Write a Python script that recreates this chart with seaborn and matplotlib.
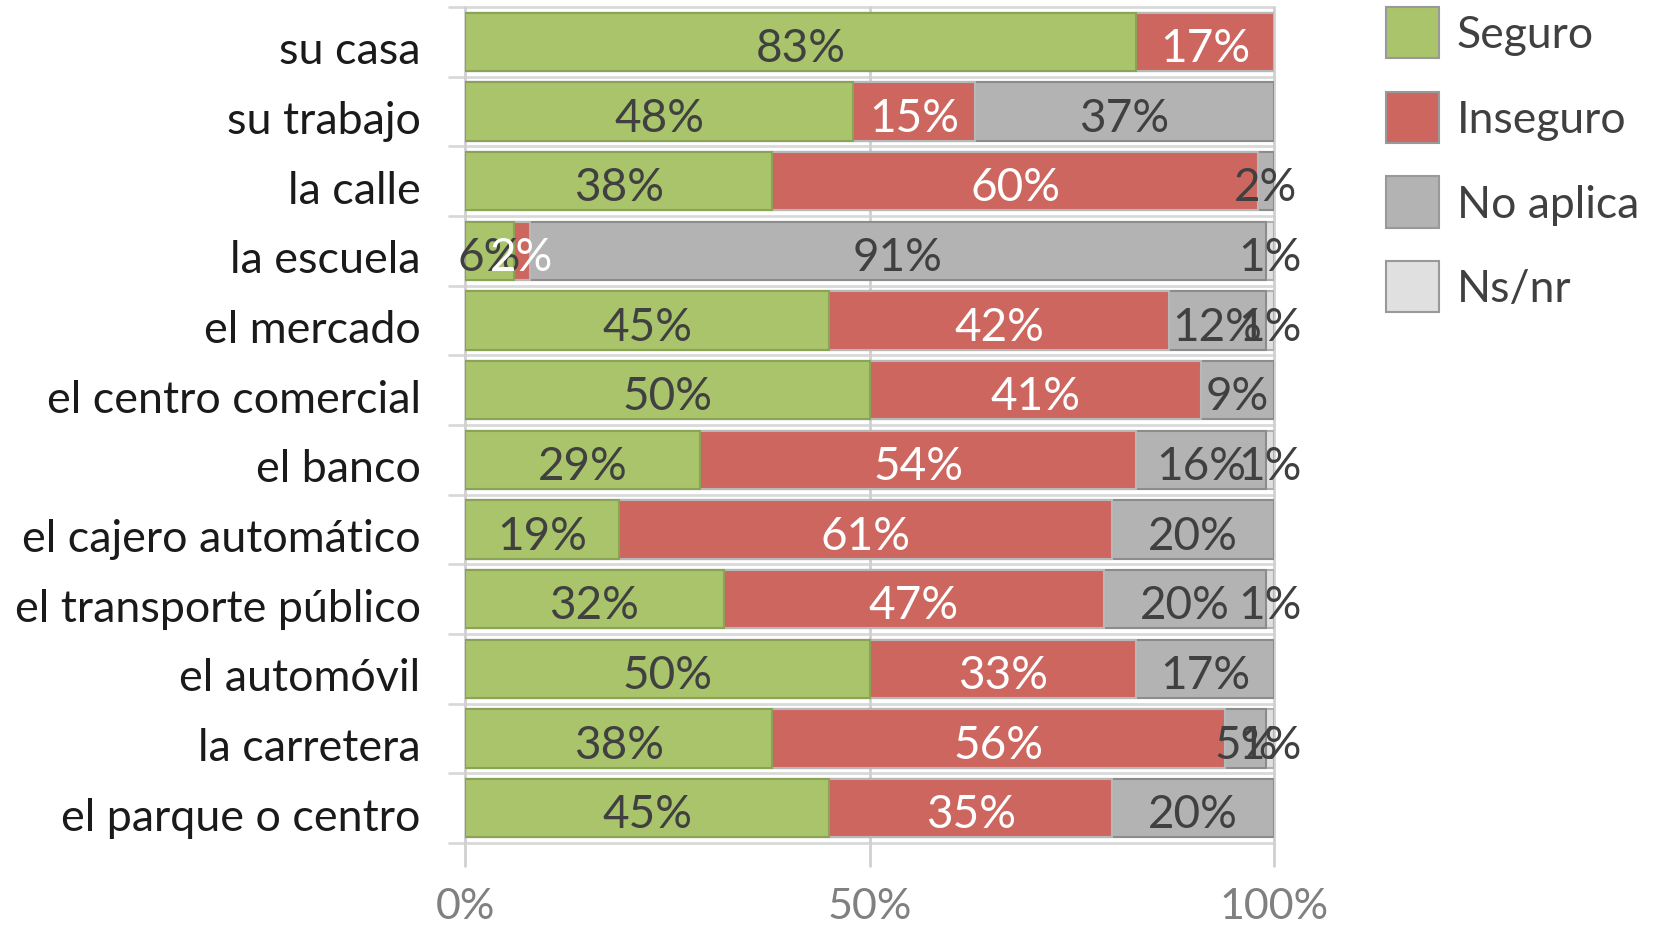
import matplotlib
matplotlib.use("Agg")
import matplotlib.pyplot as plt
import matplotlib.transforms as mtrans
import seaborn as sns
import pandas as pd
import numpy as np
from matplotlib.patches import Patch

categories = ["su casa", "su trabajo", "la calle", "la escuela", "el mercado",
              "el centro comercial", "el banco", "el cajero automático",
              "el transporte público", "el automóvil", "la carretera",
              "el parque o centro"]
seguro    = [83, 48, 38, 6, 45, 50, 29, 19, 32, 50, 38, 45]
inseguro  = [17, 15, 60, 2, 42, 41, 54, 61, 47, 33, 56, 35]
no_aplica = [0, 37, 2, 91, 12, 9, 16, 20, 20, 17, 5, 20]
ns_nr     = [0, 0, 0, 1, 1, 0, 1, 0, 1, 0, 1, 0]
series_names = ["Seguro", "Inseguro", "No aplica", "Ns/nr"]
x_ticks = [0, 50, 100]
x_ticklabels = ["0%", "50%", "100%"]

colors = ["#A9C46B", "#CD665F", "#B3B3B3", "#E0E0E0"]
edges = ["#8AA455", "#B8B8B8", "#8C8C8C", "#B0B0B0"]
text_colors = ["#404040", "white", "#404040", "#404040"]

sns.set_theme(style="white")
plt.rcParams['font.family'] = ['Lato', 'DejaVu Sans']

fig = plt.figure(figsize=(16.55, 9.28), dpi=100)
ax = fig.add_axes([465/1655, 1 - 844/928, 809/1655, (844 - 8)/928])

vals = [seguro, inseguro, no_aplica, ns_nr]
cum = np.cumsum(np.array(vals), axis=0)

for k in range(3, -1, -1):
    df = pd.DataFrame({"cat": categories, "v": cum[k]})
    sns.barplot(data=df, y="cat", x="v", orient="h", color=colors[k],
                saturation=1, width=0.84, edgecolor=edges[k], linewidth=1.5,
                ax=ax, zorder=3)

fs_bar = 33
for i, cat in enumerate(categories):
    left = 0
    for k in range(4):
        v = vals[k][i]
        if v > 0:
            ax.text(left + v / 2, i + 0.09, f"{v}%", ha="center", va="center",
                    fontsize=fs_bar, color=text_colors[k], zorder=5)
        left += v

ax.set_xlim(0, 100)
ax.set_ylim(len(categories) - 0.5, -0.5)
ax.set_xticks(x_ticks)
ax.set_xticklabels(x_ticklabels, fontsize=31, color="#808080")
ax.tick_params(axis="x", length=0, pad=32)
ax.tick_params(axis="y", length=0, pad=32, labelsize=32.3, labelcolor="#1a1a1a")
offset = mtrans.ScaledTranslation(0, -5/100, fig.dpi_scale_trans)
for lbl in ax.get_yticklabels():
    lbl.set_transform(lbl.get_transform() + offset)
ax.set_xlabel("")
ax.set_ylabel("")
for s in ax.spines.values():
    s.set_visible(False)

for b in np.arange(-0.5, len(categories), 1.0):
    ax.plot([-2, 100], [b, b], color="#D9D9D9", lw=2, zorder=1, clip_on=False)
for xv in x_ticks:
    ax.axvline(xv, ymin=-0.027, ymax=1, color="#D0D0D0", lw=2, zorder=1, clip_on=False)

handles = [Patch(facecolor=colors[k], edgecolor="#999999", linewidth=1.5) for k in range(4)]
fig.legend(handles, series_names, loc="upper left", bbox_to_anchor=(1386/1655, 1 - 8/928),
           frameon=False, fontsize=32, handlelength=1.19, handleheight=1.4,
           labelspacing=0.75, handletextpad=0.4, borderaxespad=0, borderpad=0,
           labelcolor="#404040")

fig.savefig("out.png", dpi=100)
